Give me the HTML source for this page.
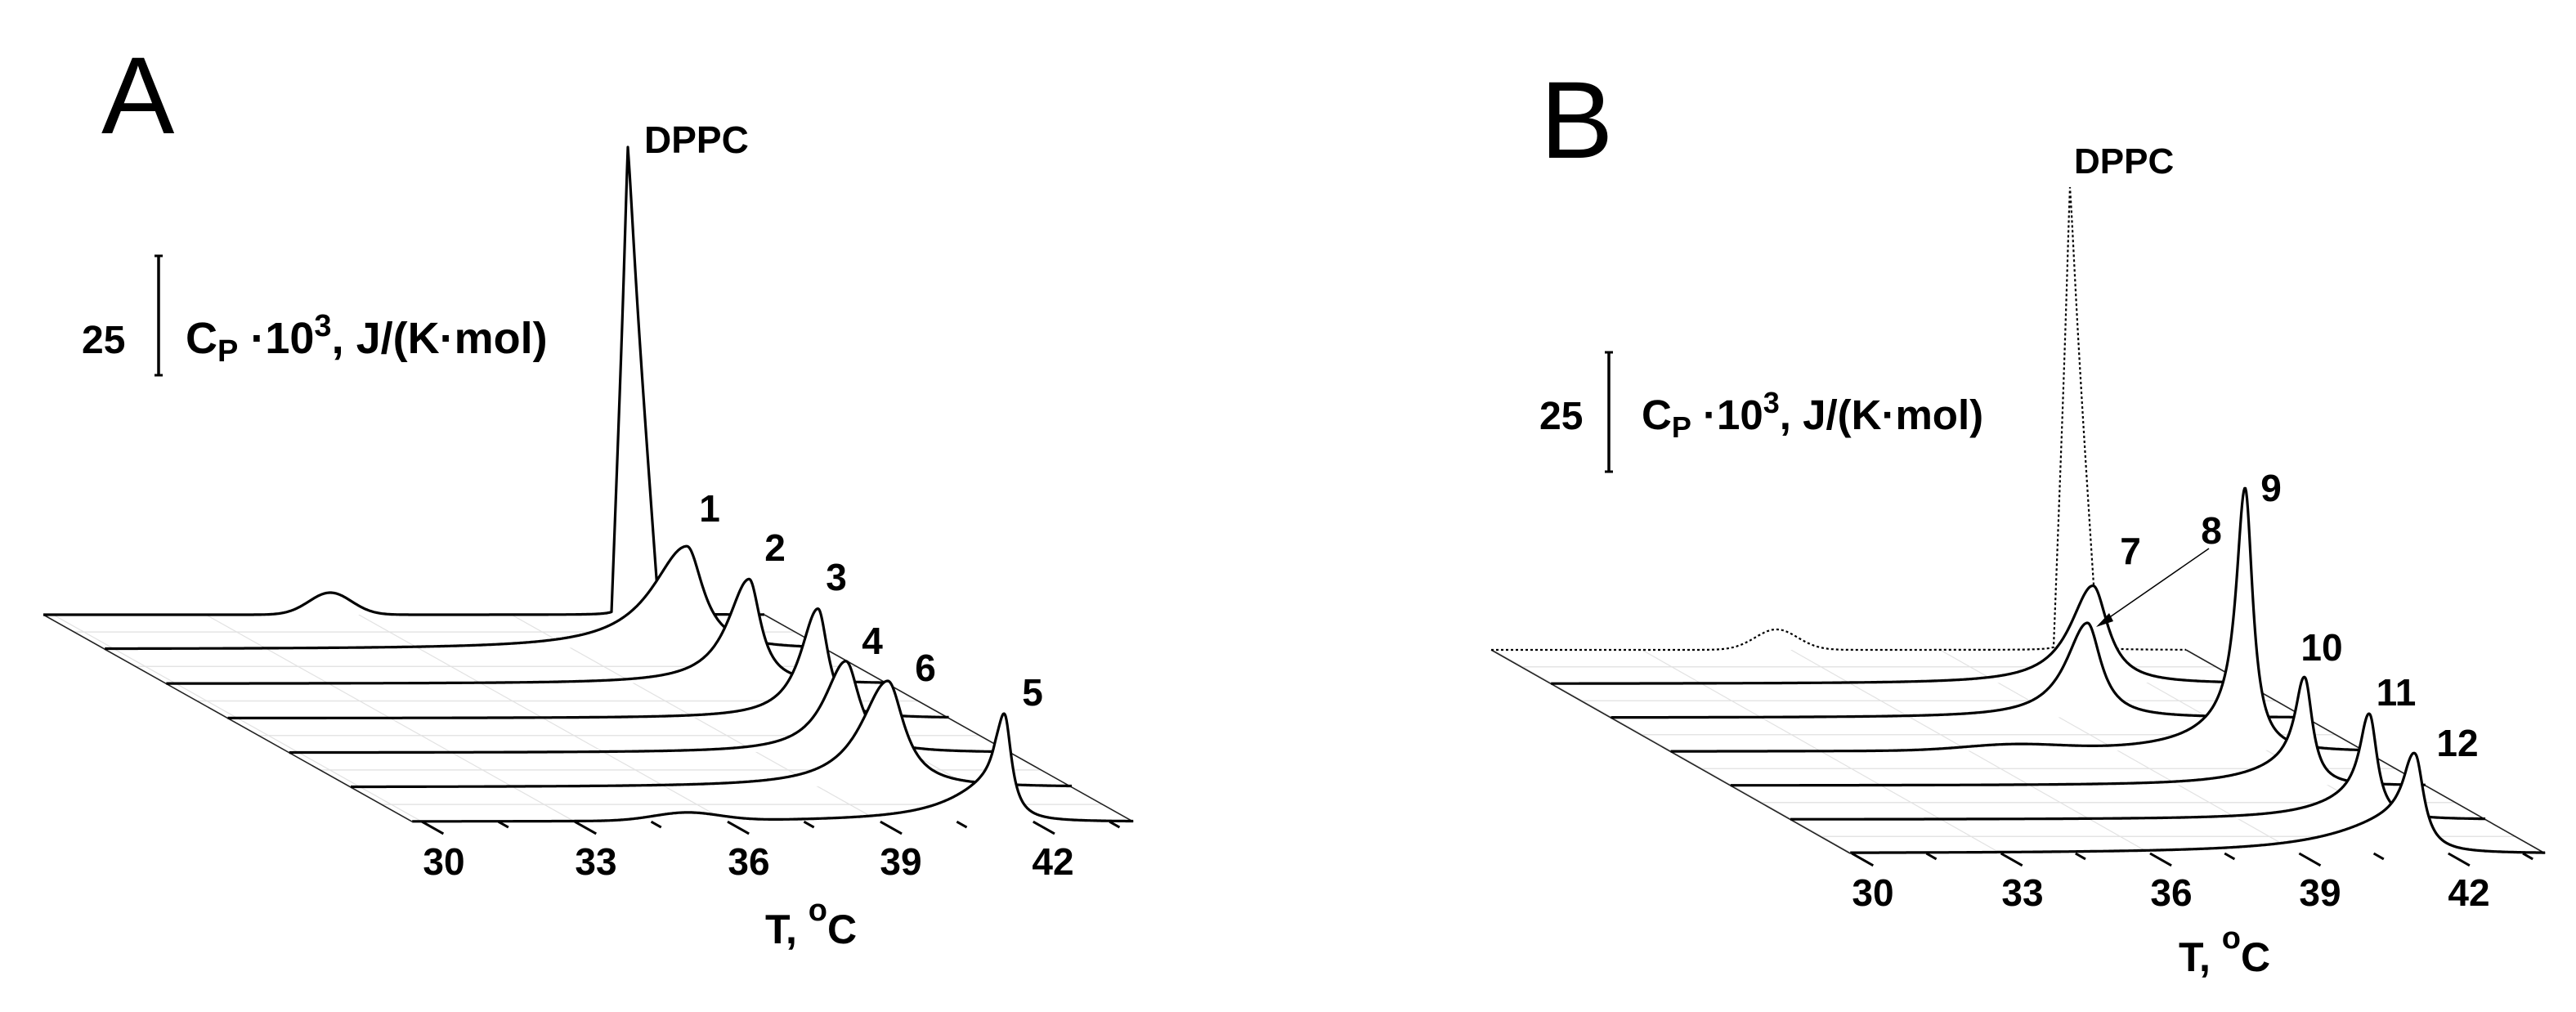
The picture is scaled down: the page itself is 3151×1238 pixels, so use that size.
<!DOCTYPE html>
<html><head><meta charset="utf-8"><style>
html,body{margin:0;padding:0;background:#fff;}
svg{display:block;}
text{font-family:"Liberation Sans",Arial,sans-serif;fill:#000;}
.b{font-weight:bold;}
</style></head><body>
<svg id="s" width="3151" height="1238" viewBox="0 0 3151 1238" xmlns="http://www.w3.org/2000/svg">
<rect width="3151" height="1238" fill="#fff"/>
<g id="plots"></g>
<!-- Panel A text -->
<text x="124" y="163" font-size="134">A</text>
<text class="b" x="788" y="187" font-size="46">DPPC</text>
<text class="b" x="100" y="432" font-size="48">25</text>
<line x1="194" y1="313" x2="194" y2="459" stroke="#000" stroke-width="3.5"/>
<line x1="189" y1="313" x2="199" y2="313" stroke="#000" stroke-width="3"/>
<line x1="189" y1="459" x2="199" y2="459" stroke="#000" stroke-width="3"/>
<text class="b" x="227" y="432" font-size="54">C<tspan font-size="38" dy="10">P</tspan><tspan dy="-10"> ·10</tspan><tspan font-size="38" dy="-21">3</tspan><tspan dy="21">, J/(K·mol)</tspan></text>
<g class="b" font-size="46" text-anchor="middle" font-weight="bold">
<text x="868" y="638">1</text><text x="948" y="686">2</text><text x="1023" y="722">3</text>
<text x="1067" y="800">4</text><text x="1132" y="833">6</text><text x="1263" y="863">5</text>
<text x="543" y="1070">30</text><text x="729" y="1070">33</text><text x="916" y="1070">36</text>
<text x="1102" y="1070">39</text><text x="1288" y="1070">42</text>
</g>
<text class="b" x="936" y="1154" font-size="50">T, <tspan font-size="38" dy="-28">o</tspan><tspan dy="28">C</tspan></text>
<!-- Panel B text -->
<text x="1884" y="193" font-size="134">B</text>
<text class="b" x="2537" y="212" font-size="44">DPPC</text>
<text class="b" x="1883" y="525" font-size="48">25</text>
<line x1="1968" y1="431" x2="1968" y2="577" stroke="#000" stroke-width="3.5"/>
<line x1="1963" y1="431" x2="1973" y2="431" stroke="#000" stroke-width="3"/>
<line x1="1963" y1="577" x2="1973" y2="577" stroke="#000" stroke-width="3"/>
<text class="b" x="2008" y="525" font-size="51">C<tspan font-size="36" dy="10">P</tspan><tspan dy="-10"> ·10</tspan><tspan font-size="36" dy="-20">3</tspan><tspan dy="20">, J/(K·mol)</tspan></text>
<g font-size="46" text-anchor="middle" font-weight="bold">
<text x="2606" y="690">7</text><text x="2705" y="665">8</text><text x="2778" y="613">9</text>
<text x="2840" y="808">10</text><text x="2931" y="863">11</text><text x="3006" y="925">12</text>
<text x="2291" y="1108">30</text><text x="2474" y="1108">33</text><text x="2656" y="1108">36</text>
<text x="2838" y="1108">39</text><text x="3020" y="1108">42</text>
</g>
<text class="b" x="2665" y="1188" font-size="50">T, <tspan font-size="38" dy="-28">o</tspan><tspan dy="28">C</tspan></text>
<line x1="2702" y1="671" x2="2572" y2="761" stroke="#000" stroke-width="1.5"/>
<polygon points="2564,767 2580,750 2585,760" fill="#000"/>
</svg>
<script>
(function(){
function lor(d,w){return 1/(1+(d/w)*(d/w));}
function comp(c,x){
  var d=x-c.p;
  if(c.t==='g'){return c.h*Math.exp(-d*d/(2*c.wl*c.wl));}
  if(c.t==='tri'){
    var v = d<0 ? Math.max(0,1+d/c.wl) : Math.max(0,1-d/c.wr);
    var s = d<0 ? lor(d,c.wl*0.25) : lor(d,c.wr*0.25);
    return c.h*(0.9*v + 0.1*s);
  }
  var w = d<0?c.wl:c.wr;
  return c.h*lor(d,w);
}
function panel(P){
  var out='';
  var n=P.rows.length;
  for(var r=0;r<n-1;r++){
    var y=P.b0+P.dy*(r+0.5), xl=P.l0+P.step*(r+0.5);
    out+='<line x1="'+xl+'" y1="'+y+'" x2="'+(xl+P.w)+'" y2="'+y+'" stroke="#e4e4e4" stroke-width="1.5"/>';
  }
  for(var k=0;k<=9;k+=2){
    var off=P.o30+k*1.5*P.ppc;
    out+='<line x1="'+(P.l0+off)+'" y1="'+P.b0+'" x2="'+(P.l0+P.step*(n-1)+off)+'" y2="'+(P.b0+P.dy*(n-1))+'" stroke="#e2e2e2" stroke-width="1.2"/>';
  }
  out+='<line x1="'+P.l0+'" y1="'+P.b0+'" x2="'+(P.l0+P.step*(n-1))+'" y2="'+(P.b0+P.dy*(n-1))+'" stroke="#222" stroke-width="1.6"/>';
  out+='<line x1="'+(P.l0+P.w)+'" y1="'+P.b0+'" x2="'+(P.l0+P.step*(n-1)+P.w)+'" y2="'+(P.b0+P.dy*(n-1))+'" stroke="#222" stroke-width="1.6"/>';
  for(var r=0;r<n;r++){
    var xl=P.l0+P.step*r, yb=P.b0+P.dy*r, pts=[];
    for(var x=0;x<=P.w;x+=1){
      var f=0; P.rows[r].forEach(function(c){f+=comp(c,x);});
      pts.push((xl+x).toFixed(1)+','+(yb-f).toFixed(1));
    }
    var d='M'+pts.join(' L');
    out+='<path d="'+d+' Z" fill="#fff" stroke="none"/>';
    if(P.dot&&r===0) out+='<path d="'+d+'" fill="none" stroke="#000" stroke-width="2.2" stroke-dasharray="3,3"/>';
    else out+='<path d="'+d+'" fill="none" stroke="#000" stroke-width="3.2" stroke-linejoin="round"/>';
  }
  var xl=P.l0+P.step*(n-1), yb=P.b0+P.dy*(n-1);
  var L=Math.sqrt(P.step*P.step+P.dy*P.dy), ux=P.step/L, uy=P.dy/L;
  for(var k=0;k<=9;k++){
    var tx=xl+P.o30+k*1.5*P.ppc, len=(k%2===0)?30:14;
    out+='<line x1="'+tx+'" y1="'+yb+'" x2="'+(tx+ux*len)+'" y2="'+(yb+uy*len)+'" stroke="#000" stroke-width="3"/>';
  }
  return out;
}
var A={l0:53,step:75.2,b0:752,dy:42.2,w:882,ppc:62.3,o30:12,dot:false,rows:[
 [{t:'tri',p:715,h:572,wl:20,wr:38},{t:'g',p:351,h:27,wl:26}],
 [{t:'l',p:712,h:126,wl:52,wr:24}],
 [{t:'l',p:713,h:128,wl:32,wr:17}],
 [{t:'l',p:722,h:134,wl:26,wr:15}],
 [{t:'l',p:681,h:112,wl:32,wr:20}],
 [{t:'l',p:657,h:130,wl:40,wr:24}],
 [{t:'l',p:725,h:112,wl:12,wr:10},{t:'l',p:712,h:42,wl:65,wr:12},{t:'g',p:336,h:10,wl:40}]
]};
var B={l0:1824,step:73.2,b0:795,dy:41.5,w:850,ppc:60.8,o30:2,dot:true,rows:[
 [{t:'tri',p:708,h:566,wl:20,wr:34},{t:'g',p:349,h:25,wl:26}],
 [{t:'l',p:663,h:120,wl:34,wr:22}],
 [{t:'l',p:583,h:116,wl:32,wr:20}],
 [{t:'l',p:703,h:300,wl:13,wr:11},{t:'l',p:695,h:32,wl:65,wr:12},{t:'g',p:420,h:7,wl:60}],
 [{t:'l',p:703,h:114,wl:14,wr:11},{t:'l',p:695,h:26,wl:65,wr:12}],
 [{t:'l',p:709,h:112,wl:14,wr:11},{t:'l',p:700,h:26,wl:65,wr:12}],
 [{t:'l',p:692,h:94,wl:16,wr:12},{t:'l',p:680,h:42,wl:95,wr:16}]
]};
document.getElementById('plots').innerHTML=panel(A)+panel(B);
})();
</script>
</body></html>
